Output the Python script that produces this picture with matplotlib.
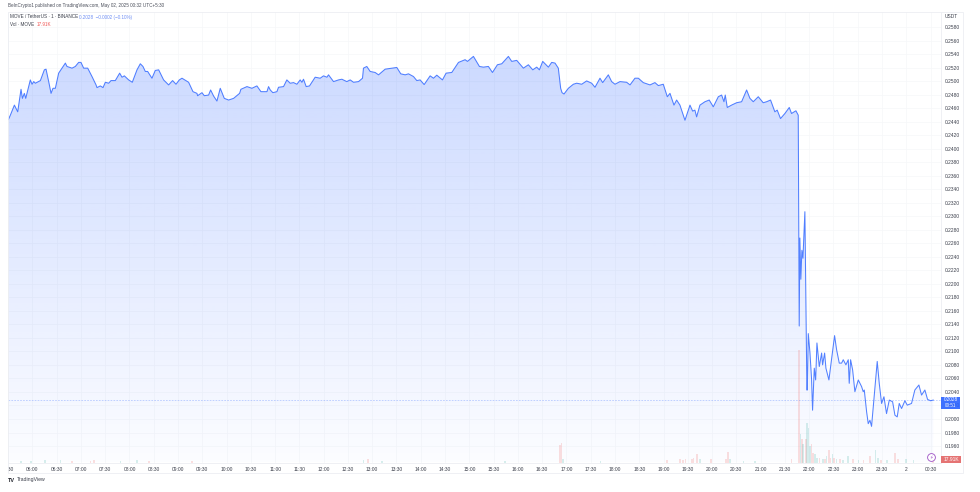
import matplotlib
matplotlib.use('Agg')
import matplotlib.pyplot as plt
import numpy as np
from matplotlib.patches import Rectangle
from matplotlib.transforms import Bbox

# minutes since midnight, May 1
price_t = [
    330.4, 332.8, 337.8, 341.9, 346.0, 347.7, 350.1, 351.8, 357.5, 359.6, 361.7, 363.7, 369.9, 374.8, 376.9,
    380.2, 383.1, 385.5, 388.4, 392.5, 396.7, 400.8, 402.8, 409.0, 413.1, 417.2, 420.1, 423.4, 428.4, 433.7,
    438.7, 439.9, 444.0, 447.3, 450.2, 454.3, 457.2, 462.5, 467.9, 470.8, 473.7, 479.0, 483.5, 489.3, 493.4,
    496.7, 499.6, 502.5, 507.8, 511.9, 516.1, 522.2, 528.4, 533.3, 537.5, 541.6, 544.9, 553.1, 558.5, 563.4,
    564.2, 569.6, 572.5, 577.8, 580.3, 584.0, 588.1, 592.2, 597.2, 602.5, 608.7, 616.1, 617.7, 625.2, 631.3,
    637.5, 642.5, 649.9, 651.9,
    654.0, 657.2, 662.2, 664.2, 670.4, 674.5, 678.6, 682.8, 686.9, 691.0, 693.1, 695.1, 698.4, 702.5, 709.5,
    715.7, 719.8, 724.0, 726.0, 732.2, 738.4, 742.5, 748.6, 752.8, 756.9, 763.1, 768.0, 769.2, 773.3, 777.5,
    783.6, 787.8, 796.0, 804.2, 810.4, 815.3, 820.7, 824.8, 831.0, 835.1, 839.2, 844.2, 851.6, 855.7, 859.8,
    866.8, 871.3, 878.3, 886.6, 894.8, 897.7, 905.1, 912.5, 917.4, 923.6, 928.6, 934.7, 940.1, 948.3, 952.4,
    958.6, 966.8, 973.0, 978.4, 983.3, 986.6,
    987.4, 990.7, 993.6, 997.7, 1001.8, 1005.9, 1010.0, 1012.9, 1014.6, 1017.0, 1022.4, 1028.6, 1032.7, 1038.9,
    1045.0, 1051.2, 1055.3, 1061.5, 1064.8, 1071.8, 1075.9, 1080.0, 1086.2, 1094.4, 1098.6, 1104.7, 1108.9,
    1115.0, 1123.3, 1129.4, 1133.6, 1139.7, 1144.7, 1148.0, 1152.9, 1156.2, 1160.3, 1166.5, 1172.7, 1176.0,
    1178.8, 1180.9, 1185.0, 1191.2, 1196.5, 1201.5, 1207.7, 1211.8, 1214.7, 1216.3, 1218.8, 1224.1, 1230.3,
    1236.5, 1242.7, 1246.8, 1250.9, 1257.1, 1263.2, 1267.4, 1272.3, 1277.6, 1280.5, 1284.6, 1290.0, 1295.4,
    1298.2, 1303.6, 1306.5,
    1307.7, 1308.5, 1309.7, 1311.0, 1312.3, 1314.7, 1317.2, 1317.7, 1318.9, 1321.0, 1323.0, 1324.2, 1326.3,
    1328.0, 1329.6, 1332.5, 1335.4, 1336.6, 1339.1, 1340.7, 1344.4, 1346.5, 1349.0, 1351.4, 1353.9, 1357.2,
    1360.1, 1362.1, 1365.4, 1368.3, 1369.5, 1371.2, 1373.7, 1376.5, 1380.7, 1384.8, 1386.8, 1388.1, 1391.0,
    1393.0, 1395.1, 1397.1, 1399.2, 1404.1, 1406.6, 1409.5, 1412.4, 1415.6, 1419.0, 1423.1, 1426.0, 1428.8,
    1431.3, 1434.2, 1438.3, 1441.2, 1446.5, 1450.6, 1455.6, 1458.9, 1463.0, 1466.3, 1470.0, 1473.3]
price = [
    .24432, .24497, .24646, .24547, .24880, .24746, .24820, .24746, .25019, .24955, .24994, .24970, .25009, .25168, .25178,
    .24994, .24820, .24895, .24895, .25119, .25193, .25268, .25218, .25193, .25218, .25278, .25278, .25193, .25193, .25069,
    .24945, .24905, .24930, .24905, .24984, .24970, .25009, .25009, .25119, .25059, .25079, .25019, .24984, .25168, .25258,
    .25218, .25144, .25144, .25044, .25159, .25168, .25019, .24945, .25009, .24955, .25019, .25044, .24984, .24845, .24820,
    .24785, .24830, .24785, .24795, .24870, .24780, .24706, .24895, .24746, .24721, .24746, .24820, .24880, .24920, .24895,
    .24930, .24845, .24845, .24920,
    .24870, .24830, .24845, .24910, .24920, .25019, .24970, .24979, .24955, .25019, .24984, .25029, .24920, .24930, .25059,
    .25044, .25079, .25059, .25094, .24994, .25019, .25029, .24994, .25019, .24984, .24994, .25044, .25193, .25218, .25144,
    .25129, .25094, .25178, .25193, .25203, .25109, .25094, .25109, .25069, .25009, .25019, .24950, .25079, .25044, .25089,
    .25019, .25119, .25129, .25278, .25318, .25293, .25367, .25218, .25208, .25218, .25129, .25243, .25258, .25367, .25293,
    .25308, .25193, .25243, .25168, .25208, .25168,
    .25193, .25293, .25258, .25208, .25278, .25268, .25193, .24895, .24830, .24810, .24895, .24955, .24970, .24955,
    .25004, .24970, .24910, .25044, .24979, .25094, .24994, .24955, .24994, .24984, .24945, .25044, .25044,
    .24979, .24945, .24979, .24935, .24955, .24770, .24820, .24646, .24721, .24646, .24422, .24646, .24557,
    .24572, .24472, .24646, .24696, .24721, .24621, .24770, .24795, .24696, .24795, .24611, .24646, .24681,
    .24696, .24870, .24746, .24696, .24770, .24681, .24696, .24721, .24547, .24572, .24447, .24522, .24611,
    .24522, .24562, .24497,
    .21376, .22679, .22068, .22497, .22379, .23068, .20428, .20429, .21264, .20976, .20578, .20130, .20752,
    .20578, .21125, .20777, .20976, .20802, .20976, .20752, .20578, .20777, .21026, .21234, .21026, .20827,
    .20827, .20877, .20802, .20877, .20528, .20877, .20727, .20404, .20578, .20479, .20404, .20429, .20105,
    .19931, .19981, .19891, .20180, .20852, .20528, .20230, .20329, .20080, .20280, .20255, .20056, .20031,
    .20230, .20155, .20270, .20205, .20230, .20429, .20503, .20354, .20429, .20290, .20270, .20280]

vol_t = [346, 358, 376, 395, 409, 432, 436, 469, 489, 504, 557, 769, 775, 792, 944, 1012, 1014, 1016, 1062,
         1144, 1160, 1164, 1167, 1175, 1177, 1181, 1185, 1199, 1217, 1220, 1222, 1239, 1253, 1298,
         1307.8, 1309.4, 1311, 1312.7, 1316, 1317.7, 1319.3, 1321, 1323, 1325, 1327, 1330, 1333, 1337,
         1339.5, 1341.5, 1344.4, 1346.5, 1349, 1351, 1354, 1358, 1362, 1368, 1374, 1381, 1387, 1395,
         1402, 1405, 1409, 1416, 1426, 1430, 1440, 1449, 1473]
vol_k = [8, 5, 10, 14, 6, 8, 11, 5, 11, 8, 5, 10, 19, 5, 8, 84, 93, 19, 6,
         10, 19, 13, 19, 19, 22, 40, 19, 19, 19, 51, 16, 5, 8, 19,
         544, 137, 113, 89, 113, 190, 169, 80, 89, 48, 40, 24, 24, 19,
         19, 32, 61, 23, 40, 23, 16, 19, 13, 32, 19, 13, 13, 29,
         61, 24, 13, 10, 45, 16, 19, 10, 17.91]
vol_up = [1, 1, 1, 1, 0, 0, 0, 1, 1, 0, 0, 1, 0, 1, 1, 0, 0, 1, 1,
          0, 0, 0, 0, 0, 0, 0, 1, 0, 0, 0, 1, 1, 1, 0,
          0, 1, 0, 1, 0, 1, 1, 1, 0, 0, 1, 1, 0, 1,
          0, 1, 0, 0, 1, 0, 1, 0, 1, 1, 0, 1, 0, 0,
          1, 1, 0, 1, 0, 0, 1, 1, 0]

y_ticks = [round(0.196 + 0.002 * i, 4) for i in range(32)]
x_ticks = list(range(330, 1481, 30))
last_price = 0.2028

plt.rcParams['font.family'] = ['Liberation Sans', 'DejaVu Sans']
W, H = 980, 492
XMIN, XMAX = 329.9, 1482.3
YMIN, YMAX = 0.19356, 0.26024
fig = plt.figure(figsize=(W / 100, H / 100), dpi=100)
fig.patch.set_facecolor('white')

ax = fig.add_axes([8 / W, 1 - 462.5 / H, 932.5 / W, 450.5 / H])
ax.set_axisbelow(True)

# area gradient, clipped to the price polygon
area = ax.fill_between(price_t, price, YMIN, color='none', linewidth=0)
grad = np.zeros((256, 1, 4))
grad[:, 0, 0] = 41 / 255
grad[:, 0, 1] = 98 / 255
grad[:, 0, 2] = 1.0
grad[:, 0, 3] = np.linspace(0.24, 0.015, 256)
im = ax.imshow(grad, extent=[XMIN, XMAX, YMIN, 0.2541], origin='upper', aspect='auto', zorder=1)
im.set_clip_path(area.get_paths()[0], transform=ax.transData)
ax.set_xlim(XMIN, XMAX)
ax.set_ylim(YMIN, YMAX)

# volume pane shares the bottom of the chart
ax2 = ax.twinx()
ax2.set_ylim(0, 2177)
ax2.axis('off')
colors = ['#26a69a' if u else '#ef5350' for u in vol_up]
ax2.bar(vol_t, vol_k, width=2.0, color=colors, alpha=0.18, linewidth=0)

ax3 = ax.twinx()
ax3.set_ylim(YMIN, YMAX)
ax3.axis('off')
ax3.axhline(last_price, color='#2962ff', alpha=0.3, linewidth=0.6, linestyle=(0, (2, 1.5)))
ax3.plot(price_t, price, color='#2962ff', linewidth=0.75, alpha=0.8, solid_joinstyle='round')

# twinx puts the ticks back on the left, so set them up after it
ax.set_xticks(x_ticks)
ax.set_yticks(y_ticks)
ax.grid(color='#f6f7f9', linewidth=0.5)
ax.yaxis.tick_right()
ax.tick_params(length=0, labelsize=3.55, labelcolor='#3a3e4a', pad=3)
ax.set_yticklabels(['%.4f' % v for v in y_ticks])
labels = []
for t in x_ticks:
    labels.append('2' if t == 1440 else '%02d:%02d' % ((t // 60) % 24, t % 60))
ax.set_xticklabels(labels)
for s in ax.spines.values():
    s.set_color('#eceef2')
    s.set_linewidth(0.6)
ax.spines['top'].set_visible(False)
ax.spines['left'].set_visible(False)

# first time label is cut by the chart edge
for tl in ax.get_xticklabels():
    tl.set_clip_box(Bbox([[8, 0], [W, H]]))
    tl.set_clip_on(True)

# frame around chart + axis strips
fig.add_artist(Rectangle((8 / W, 1 - 473 / H), 955 / W, 461 / H, transform=fig.transFigure,
                         fill=False, edgecolor='#eceef2', linewidth=0.6))


def px_text(x, y, s, **kw):
    kw.setdefault('fontsize', 3.3)
    kw.setdefault('va', 'center')
    return fig.text(x / W, 1 - y / H, s, **kw)


px_text(8, 6, 'BeInCrypto1 published on TradingView.com, May 02, 2025 00:32 UTC+5:30', color='#4a4e5a')
px_text(10, 17, 'MOVE / TetherUS · 1 · BINANCE', color='#3a3e4a')
px_text(79, 17, '0.2028  −0.0002 (−0.10%)', color='#6f8ff5')
px_text(10, 24, 'Vol · MOVE', color='#3a3e4a')
px_text(37, 24, '17.91K', color='#ef5350')
px_text(951, 17, 'USDT', color='#3a3e4a', ha='center', fontsize=3.55)

# last price and volume tags
fig.add_artist(Rectangle((941 / W, 1 - 409 / H), 19 / W, 12.5 / H, transform=fig.transFigure,
                         facecolor='#2962ff', edgecolor='none', alpha=0.9))
px_text(950.5, 399.8, '0.2028', color='white', ha='center', fontsize=3.3)
px_text(950.5, 405.8, '00:51', color='white', ha='center', fontsize=3.3)
fig.add_artist(Rectangle((941 / W, 1 - 462.5 / H), 20 / W, 6.5 / H, transform=fig.transFigure,
                         facecolor='#e57373', edgecolor='none'))
px_text(951, 459.3, '17.91K', color='white', ha='center', fontsize=3.5)

# lightning badge
ax3.plot([1471], [0.19437], marker='o', markersize=5.6, markerfacecolor='white',
         markeredgecolor='#9c4fc4', markeredgewidth=0.6, clip_on=False)
ax3.text(1471, 0.19437, '⚡', color='#9c4fc4', fontsize=3.5, ha='center', va='center', family='DejaVu Sans')

px_text(8, 480, 'TV', color='#20232b', fontsize=4.0, fontweight='bold')
px_text(17, 480, 'TradingView', color='#3a3e4a', fontsize=3.7)

fig.savefig('out.png', dpi=100)
